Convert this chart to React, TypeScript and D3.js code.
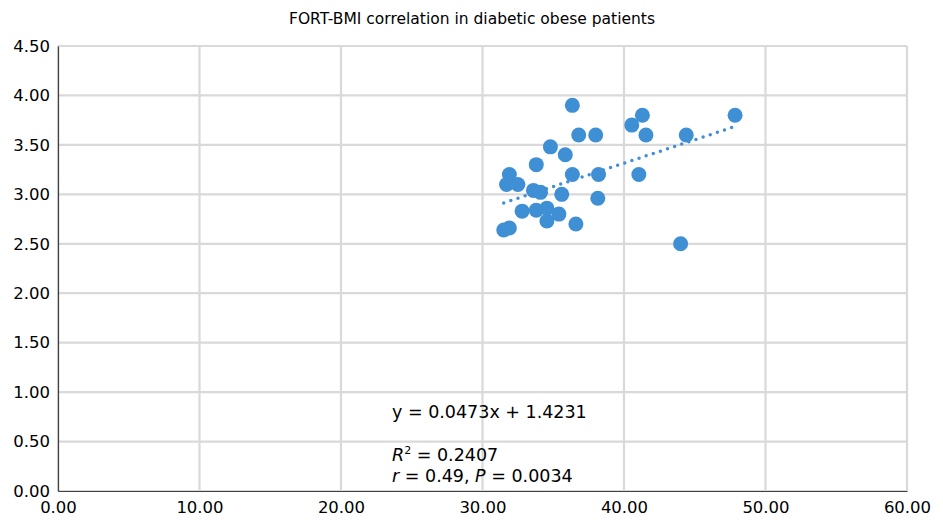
import { useEffect, useRef } from 'react'
import * as d3 from 'd3'

// BMI (x) vs FORT (y)
const BMI = [
  36.35, 41.3, 40.55, 47.85, 36.8, 38.0, 41.55, 44.4, 34.8, 35.85,
  33.8, 31.9, 36.35, 38.2, 41.05, 31.7, 32.5, 33.6, 34.1, 35.6,
  38.15, 32.8, 33.8, 34.55, 35.4, 34.55, 36.6, 31.5, 31.9, 44.0,
]
const FORT = [
  3.9, 3.8, 3.7, 3.8, 3.6, 3.6, 3.6, 3.6, 3.48, 3.4,
  3.3, 3.2, 3.2, 3.2, 3.2, 3.1, 3.1, 3.04, 3.02, 3.0,
  2.96, 2.83, 2.84, 2.86, 2.8, 2.73, 2.7, 2.64, 2.66, 2.5,
]
const X_TICKS = [0, 10, 20, 30, 40, 50, 60]
const Y_TICKS = [0, 0.5, 1, 1.5, 2, 2.5, 3, 3.5, 4, 4.5]
const SLOPE = 0.0473
const INTERCEPT = 1.4231
const TITLE = 'FORT-BMI correlation in diabetic obese patients'

export default function App() {
  const svgRef = useRef<SVGSVGElement>(null)

  useEffect(() => {
    if (!svgRef.current) return
    const W = 943
    const H = 520
    const margin = { top: 46, right: 36, bottom: 29, left: 58 }
    const iW = W - margin.left - margin.right
    const iH = H - margin.top - margin.bottom
    const font = '"DejaVu Sans", Tahoma, sans-serif'

    const svg = d3.select(svgRef.current)
    svg.selectAll('*').remove()

    svg.append('text').attr('x', 472).attr('y', 24)
      .attr('text-anchor', 'middle').attr('font-family', font).attr('font-size', 15.5)
      .attr('fill', '#000').text(TITLE)

    const g = svg.append('g').attr('transform', `translate(${margin.left},${margin.top})`)
    const x = d3.scaleLinear().domain([0, 60]).range([0, iW])
    const y = d3.scaleLinear().domain([0, 4.5]).range([iH, 0])

    // grid
    Y_TICKS.forEach((t) => {
      g.append('line').attr('x1', 0).attr('x2', iW).attr('y1', y(t)).attr('y2', y(t))
        .attr('stroke', '#d9d9d9').attr('stroke-width', 2.2)
    })
    X_TICKS.forEach((t) => {
      g.append('line').attr('x1', x(t)).attr('x2', x(t)).attr('y1', 0).attr('y2', iH)
        .attr('stroke', '#d9d9d9').attr('stroke-width', 2.2)
    })

    // axes
    g.append('g').attr('transform', `translate(0,${iH})`)
      .call(d3.axisBottom(x).tickValues(X_TICKS).tickFormat((d) => (d as number).toFixed(2)).tickSize(0).tickPadding(10))
      .call((ax) => ax.select('.domain').attr('stroke', '#404040').attr('stroke-width', 1.2))
      .call((ax) => ax.selectAll('text').attr('fill', '#000').attr('font-size', 16.5).attr('font-family', font))
    g.append('g')
      .call(d3.axisLeft(y).tickValues(Y_TICKS).tickFormat((d) => (d as number).toFixed(2)).tickSize(0).tickPadding(8))
      .call((ax) => ax.select('.domain').attr('stroke', '#404040').attr('stroke-width', 1.2))
      .call((ax) => ax.selectAll('text').attr('fill', '#000').attr('font-size', 16.5).attr('font-family', font))

    // points
    g.selectAll('circle').data(BMI).enter().append('circle')
      .attr('cx', (d) => x(d)).attr('cy', (_, i) => y(FORT[i]))
      .attr('r', 7.5).attr('fill', '#3f8fd4')

    // trend line (dotted)
    const xMin = d3.min(BMI) as number
    const xMax = d3.max(BMI) as number
    g.append('line')
      .attr('x1', x(xMin)).attr('x2', x(xMax))
      .attr('y1', y(SLOPE * xMin + INTERCEPT)).attr('y2', y(SLOPE * xMax + INTERCEPT))
      .attr('stroke', '#3f8fd4').attr('stroke-width', 3.5)
      .attr('stroke-linecap', 'round').attr('stroke-dasharray', '0 7.5')

    // annotations
    const ann = svg.append('g').attr('font-family', font).attr('font-size', 17.5).attr('fill', '#000')
    ann.append('text').attr('x', 392).attr('y', 418).text(`y = ${SLOPE}x + ${INTERCEPT}`)
    const r2 = ann.append('text').attr('x', 392).attr('y', 461)
    r2.append('tspan').attr('font-style', 'italic').text('R')
    r2.append('tspan').attr('font-size', 11).attr('dy', -7).text('2')
    r2.append('tspan').attr('dy', 7).text(' = 0.2407')
    const rp = ann.append('text').attr('x', 392).attr('y', 482)
    rp.append('tspan').attr('font-style', 'italic').text('r')
    rp.append('tspan').text(' = 0.49, ')
    rp.append('tspan').attr('font-style', 'italic').text('P')
    rp.append('tspan').text(' = 0.0034')

    return () => { svg.selectAll('*').remove() }
  }, [])

  return (
    <svg ref={svgRef} width={943} height={520}
      style={{ position: 'absolute', left: 0, top: 0, background: '#fff' }} />
  )
}
